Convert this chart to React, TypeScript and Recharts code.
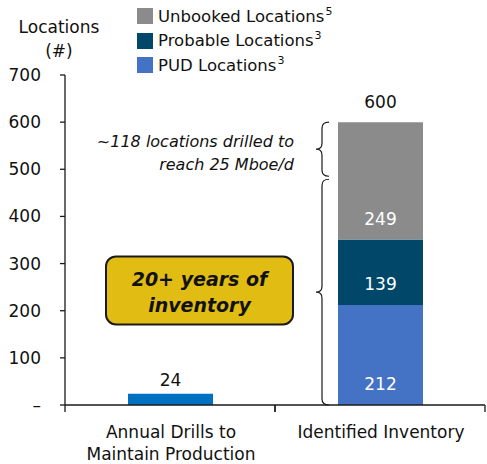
import React from "react";
import { BarChart, Bar, XAxis, YAxis, LabelList, Rectangle } from "recharts";

// ---- data ----
const categories = ["Annual Drills to\nMaintain Production", "Identified Inventory"];
const annualDrills = [24, null];
const pudLocations = [null, 212];
const probableLocations = [null, 139];
const unbookedLocations = [null, 249];
const totalLocations = [null, 600];
const drilledToReach = [null, 118];
const yTicks = [0, 100, 200, 300, 400, 500, 600, 700];
const legendNames = ["Unbooked Locations", "Probable Locations", "PUD Locations"];
const legendNotes = ["5", "3", "3"];
const annotationLines = ["~118 locations drilled to", "reach 25 Mboe/d"];
const calloutLines = ["20+ years of", "inventory"];
const axisTitleLines = ["Locations", "(#)"];

// ---- style ----
const W = 487;
const H = 464;
const FONT = "'DejaVu Sans', sans-serif";
const Y_W = 65;
const X_H = 59;
const MARGIN = { top: 75, right: 2, bottom: 0, left: 0 };
const PLOT_W = W - MARGIN.left - MARGIN.right - Y_W;
const BAND = PLOT_W / categories.length;
const AXIS = "#1a1a1a";
const C_DRILLS = "#0070C0";
const C_PUD = "#4472C4";
const C_PROB = "#00476A";
const C_UNB = "#8B8B8B";
const C_YELLOW = "#E1BC12";
const legendColors = [C_UNB, C_PROB, C_PUD];

const data = categories.map((c, i) => ({
  name: c,
  drills: annualDrills[i],
  pud: pudLocations[i],
  probable: probableLocations[i],
  unbooked: unbookedLocations[i],
  total: totalLocations[i],
  drilled: drilledToReach[i],
}));

function XTick(props: any) {
  const { x, y, payload } = props;
  const lines = String(payload.value).split("\n");
  const half = BAND / 2;
  return (
    <g>
      <line x1={x - half} x2={x - half} y1={y} y2={y + 7} stroke={AXIS} strokeWidth={1.3} />
      <line x1={x + half} x2={x + half} y1={y} y2={y + 7} stroke={AXIS} strokeWidth={1.3} />
      {lines.map((l, i) => (
        <text key={i} x={x + 1} y={y + 33 + i * 22} textAnchor="middle" fontFamily={FONT} fontSize={17} fill="#111">
          {l}
        </text>
      ))}
    </g>
  );
}

function YTitle(props: any) {
  const vb = props.viewBox || {};
  const cx = 59;
  return (
    <g>
      {axisTitleLines.map((l, i) => (
        <text key={i} x={cx} y={vb.y - 42 + i * 24} textAnchor="middle" fontFamily={FONT} fontSize={17} fill="#111">
          {l}
        </text>
      ))}
    </g>
  );
}

function TopLabel(offset: number) {
  return (props: any) => {
    const { x, y, width, value } = props;
    if (value == null || value === "") return null;
    return (
      <text x={x + width / 2} y={y - offset} textAnchor="middle" fontFamily={FONT} fontSize={17} fill="#111">
        {value}
      </text>
    );
  };
}

function InsideBottomLabel(props: any) {
  const { x, y, width, height, value } = props;
  if (value == null || value === "" || !height) return null;
  return (
    <text x={x + width / 2} y={y + height - 15} textAnchor="middle" fontFamily={FONT} fontSize={17} fill="#fff">
      {value}
    </text>
  );
}

function bracePath(xr: number, xm: number, xl: number, y1: number, y2: number, r = 6) {
  const ym = (y1 + y2) / 2;
  return `M${xr},${y1} Q${xm},${y1} ${xm},${y1 + r} L${xm},${ym - r} Q${xm},${ym} ${xl},${ym} Q${xm},${ym} ${xm},${ym + r} L${xm},${y2 - r} Q${xm},${y2} ${xr},${y2}`;
}

function UnbookedShape(props: any) {
  const { x, y, width, height, fill, payload } = props;
  if (!payload || payload.unbooked == null || !height) return <g />;
  const k = height / payload.unbooked;
  const yTop = y;
  const ySplit = y + payload.drilled * k;
  const yBottom = y + payload.total * k;
  const xr = x - 9;
  const xm = x - 16;
  const xl = x - 22;
  const ymTop = (yTop + ySplit) / 2;
  const ymLow = (ySplit + yBottom) / 2;
  const boxRight = x - 45;
  const boxW = 187;
  const boxH = 68;
  const boxY = ymLow - 35;
  return (
    <g>
      <Rectangle x={x} y={y} width={width} height={height} fill={fill} />
      <path d={bracePath(xr, xm, xl, yTop, ySplit - 1.5)} fill="none" stroke={AXIS} strokeWidth={1.2} />
      <path d={bracePath(xr, xm, xl, ySplit + 1.5, yBottom)} fill="none" stroke={AXIS} strokeWidth={1.2} />
      {annotationLines.map((l, i) => (
        <text key={i} x={x - 44} y={ymTop - 3 + i * 23} textAnchor="end" fontFamily={FONT} fontStyle="italic" fontSize={16} fill="#111">
          {l}
        </text>
      ))}
      <rect x={boxRight - boxW} y={boxY} width={boxW} height={boxH} rx={10} ry={10} fill={C_YELLOW} stroke={AXIS} strokeWidth={2} />
      {calloutLines.map((l, i) => (
        <text key={i} x={boxRight - boxW / 2} y={boxY + 30 + i * 26} textAnchor="middle" fontFamily={FONT} fontStyle="italic" fontWeight="bold" fontSize={19} fill="#111">
          {l}
        </text>
      ))}
    </g>
  );
}

export default function App() {
  return (
    <div style={{ position: "absolute", left: 0, top: 0, width: W, height: H, background: "#fff" }}>
      <BarChart width={W} height={H} data={data} margin={MARGIN} barSize={85}>
        <XAxis
          dataKey="name"
          axisLine={{ stroke: AXIS, strokeWidth: 1.3 }}
          tickLine={false}
          tickSize={0}
          tickMargin={0}
          interval={0}
          tick={<XTick />}
          height={X_H}
        />
        <YAxis
          width={Y_W}
          domain={[0, 700]}
          ticks={yTicks}
          interval={0}
          axisLine={{ stroke: AXIS, strokeWidth: 1.3 }}
          tickLine={{ stroke: AXIS, strokeWidth: 1.3 }}
          tickSize={5}
          tickMargin={19}
          tickFormatter={(v: number) => (v === 0 ? "–" : String(v))}
          tick={{ fontFamily: FONT, fontSize: 17, fill: "#111" }}
          label={<YTitle />}
        />
        <Bar dataKey="drills" stackId="s" fill={C_DRILLS} isAnimationActive={false}>
          <LabelList dataKey="drills" content={TopLabel(8)} />
        </Bar>
        <Bar dataKey="pud" stackId="s" fill={C_PUD} isAnimationActive={false}>
          <LabelList dataKey="pud" content={InsideBottomLabel} />
        </Bar>
        <Bar dataKey="probable" stackId="s" fill={C_PROB} isAnimationActive={false}>
          <LabelList dataKey="probable" content={InsideBottomLabel} />
        </Bar>
        <Bar dataKey="unbooked" stackId="s" fill={C_UNB} isAnimationActive={false} shape={<UnbookedShape />}>
          <LabelList dataKey="unbooked" content={InsideBottomLabel} />
          <LabelList dataKey="total" content={TopLabel(14)} />
        </Bar>
      </BarChart>
      <div style={{ position: "absolute", left: 137, top: 4, fontFamily: FONT, fontSize: 16.5, color: "#111" }}>
        {legendNames.map((n, i) => (
          <div key={i} style={{ display: "flex", alignItems: "center", height: 24.5, whiteSpace: "nowrap" }}>
            <span style={{ display: "inline-block", width: 16, height: 16, background: legendColors[i], marginRight: 5 }} />
            <span>
              {n}
              <sup style={{ fontSize: 11, marginLeft: 1, verticalAlign: "top", position: "relative", top: -2 }}>{legendNotes[i]}</sup>
            </span>
          </div>
        ))}
      </div>
    </div>
  );
}
